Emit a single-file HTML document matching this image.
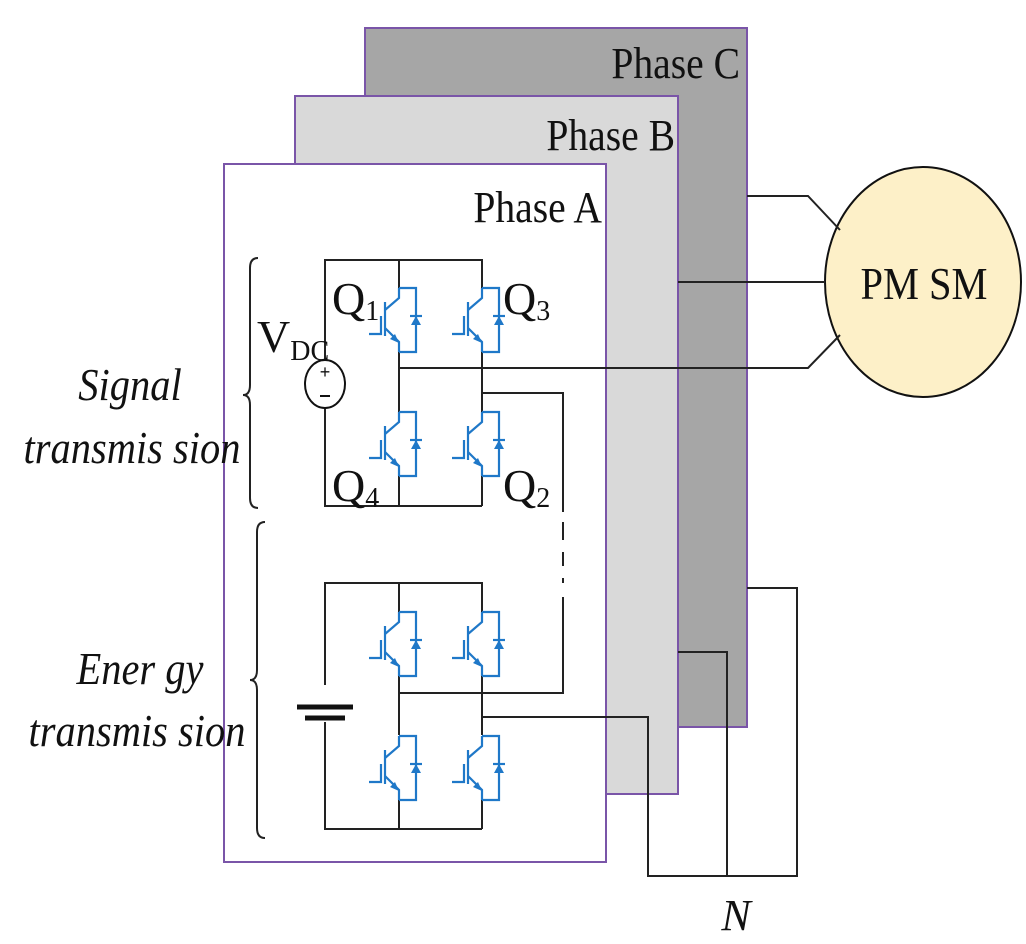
<!DOCTYPE html>
<html><head><meta charset="utf-8"><style>html,body{margin:0;padding:0;background:#fff}svg{display:block}</style></head><body>
<svg width="1026" height="944" viewBox="0 0 1026 944" xmlns="http://www.w3.org/2000/svg">
<defs>
<g id="ig" fill="none" stroke="#1f78c8" stroke-width="2.2">
  <path d="M0,0 H17 V64 H0"/>
  <path d="M0,0 V10 L-14,22"/>
  <path d="M-14,14 V48"/>
  <path d="M-14,40 L0,54 V64"/>
  <path d="M-18,28 V46 H-30"/>
  <polygon points="12,37 22,37 17,28" fill="#1f78c8" stroke="none"/>
  <path d="M11,28 H23"/>
  <polygon points="0,55 -9,51 -4,46" fill="#1f78c8" stroke="none"/>
</g>
</defs>
<rect x="365" y="28" width="382" height="699" fill="#a6a6a6" stroke="#7a55a8" stroke-width="2"/>
<rect x="295" y="96" width="383" height="698" fill="#d9d9d9" stroke="#7a55a8" stroke-width="2"/>
<rect x="224" y="164" width="382" height="698" fill="#fff" stroke="#7a55a8" stroke-width="2"/>
<g font-family="Liberation Serif, serif" font-size="44" fill="#111">
<text transform="translate(740,78) scale(0.9,1)" text-anchor="end">Phase C</text>
<text transform="translate(675,150) scale(0.9,1)" text-anchor="end">Phase B</text>
<text transform="translate(602,222) scale(0.9,1)" text-anchor="end">Phase A</text>
</g>
<ellipse cx="923" cy="282" rx="98" ry="115" fill="#fdf0c8" stroke="#111" stroke-width="2"/>
<text transform="translate(924,299) scale(0.88,1)" text-anchor="middle" font-family="Liberation Serif, serif" font-size="46" fill="#111">PM SM</text>
<g fill="none" stroke="#222" stroke-width="2">
<path d="M747,196 H808 L840,230"/>
<path d="M678,282 H825"/>
<path d="M399,368 H808 L840,335"/>
<path d="M325,363 V260 H482 V288"/>
<path d="M399,260 V288"/>
<path d="M399,352 V412 M399,476 V506 M482,506 H325 V408"/>
<path d="M482,352 V412 M482,476 V506"/>
<path d="M482,393 H563 V512"/>
<path d="M563,522 V540 M563,552 V566 M563,578 V583"/>
<path d="M563,597 V693 H399"/>
<path d="M325,685 V583 H482 V612"/>
<path d="M399,583 V612"/>
<path d="M399,676 V735 M399,800 V829 M482,829 H325 V722"/>
<path d="M482,676 V735 M482,800 V829"/>
<path d="M482,717 H648 V876 H797 V588 H747"/>
<path d="M678,652 H727 V876"/>
<path d="M258,258 Q250,258 250,268 V385 Q250,395 243,395 Q250,395 250,405 V498 Q250,508 258,508"/>
<path d="M265,522 Q257,522 257,532 V670 Q257,680 250,680 Q257,680 257,690 V828 Q257,838 265,838"/>
</g>
<ellipse cx="325" cy="384" rx="20" ry="24" fill="#fff" stroke="#111" stroke-width="2"/>
<text x="325" y="378" text-anchor="middle" font-family="Liberation Sans, sans-serif" font-size="18" fill="#111">+</text>
<path d="M320,396 H330" stroke="#111" stroke-width="2"/>
<path d="M297,707 H353" stroke="#111" stroke-width="5"/>
<path d="M305,718 H345" stroke="#111" stroke-width="5"/>
<use href="#ig" x="399" y="288"/>
<use href="#ig" x="482" y="288"/>
<use href="#ig" x="399" y="412"/>
<use href="#ig" x="482" y="412"/>
<use href="#ig" x="399" y="612"/>
<use href="#ig" x="482" y="612"/>
<use href="#ig" x="399" y="736"/>
<use href="#ig" x="482" y="736"/>
<g font-family="Liberation Serif, serif" fill="#111">
<text x="332" y="314" font-size="46">Q<tspan font-size="28" dy="6">1</tspan></text>
<text x="503" y="314" font-size="46">Q<tspan font-size="28" dy="6">3</tspan></text>
<text x="332" y="501" font-size="46">Q<tspan font-size="28" dy="6">4</tspan></text>
<text x="503" y="501" font-size="46">Q<tspan font-size="28" dy="6">2</tspan></text>
<text x="257" y="352" font-size="46">V<tspan font-size="28" dy="8">DC</tspan></text>
<g font-style="italic" font-size="46" text-anchor="middle">
<text transform="translate(130,400) scale(0.88,1)">Signal</text>
<text transform="translate(132,463) scale(0.88,1)">transmis sion</text>
<text transform="translate(140,684) scale(0.88,1)">Ener gy</text>
<text transform="translate(137,746) scale(0.88,1)">transmis sion</text>
<text x="736" y="930" font-size="44">N</text>
</g>
</g>
</svg>
</body></html>
